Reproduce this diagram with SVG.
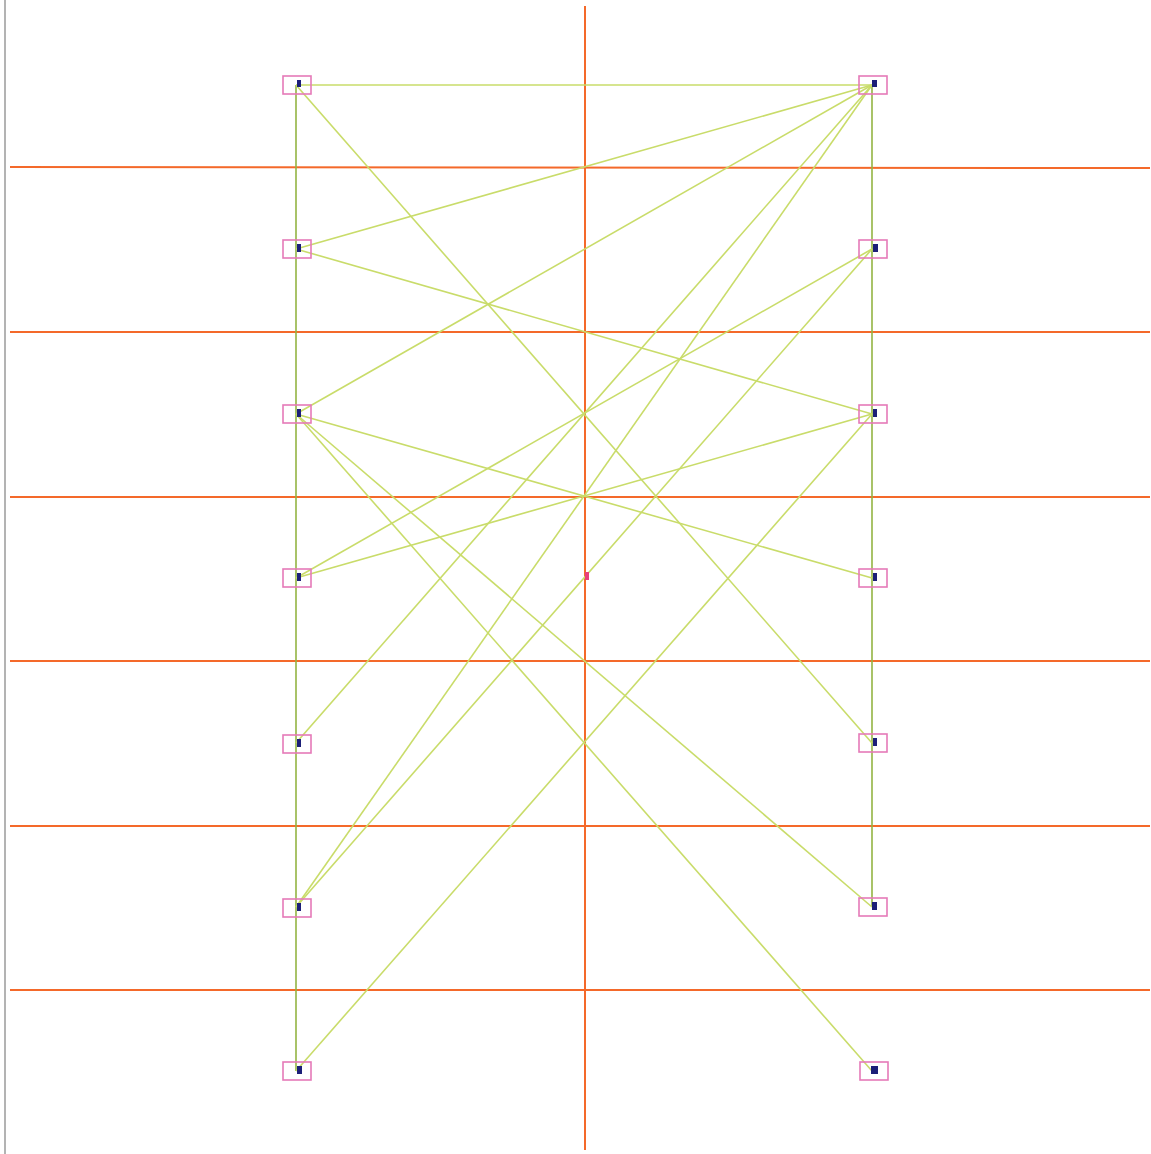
<svg xmlns="http://www.w3.org/2000/svg" width="1151" height="1154" viewBox="0 0 1151 1154">
<style>
.grid{stroke:#f4692a;stroke-width:2;fill:none}
.e{stroke:#c9dc6a;stroke-width:1.6;fill:none}
.v{stroke:#93b443;stroke-width:1.6;fill:none}
.box{fill:none;stroke:#e57ab8;stroke-width:1.6}
.dot{fill:#1c1f78}
</style>
<rect width="1151" height="1154" fill="#ffffff"/>
<line x1="5" y1="0" x2="5" y2="1154" stroke="#9a9a9a" stroke-width="1.5"/>
<g id="grid">
<line class="grid" x1="585" y1="6" x2="585" y2="1150"/>
<line class="grid" x1="10" y1="167" x2="1150" y2="168"/>
<line class="grid" x1="10" y1="332" x2="1150" y2="332"/>
<line class="grid" x1="10" y1="497" x2="1150" y2="497"/>
<line class="grid" x1="10" y1="661" x2="1150" y2="661"/>
<line class="grid" x1="10" y1="826" x2="1150" y2="826"/>
<line class="grid" x1="10" y1="990" x2="1150" y2="990"/>
</g>
<g id="connectors">
<line class="v" x1="296" y1="85" x2="296" y2="1071"/>
<line class="v" x1="872" y1="85" x2="872" y2="907"/>
<line class="e" x1="296" y1="85" x2="872" y2="85"/>
<line class="e" x1="296" y1="85" x2="872" y2="743"/>
<line class="e" x1="872" y1="85" x2="296" y2="249"/>
<line class="e" x1="872" y1="85" x2="296" y2="414"/>
<line class="e" x1="872" y1="85" x2="296" y2="743"/>
<line class="e" x1="872" y1="85" x2="296" y2="907"/>
<line class="e" x1="296" y1="249" x2="872" y2="414"/>
<line class="e" x1="296" y1="414" x2="872" y2="578"/>
<line class="e" x1="296" y1="414" x2="872" y2="907"/>
<line class="e" x1="296" y1="414" x2="872" y2="1071"/>
<line class="e" x1="296" y1="578" x2="872" y2="414"/>
<line class="e" x1="296" y1="578" x2="872" y2="249"/>
<line class="e" x1="296" y1="907" x2="872" y2="249"/>
<line class="e" x1="296" y1="1071" x2="872" y2="414"/>
</g>
<rect x="585" y="572" width="4" height="8" fill="#e8407a"/>
<g id="L1"><rect class="box" x="283" y="76" width="28" height="18"/><rect class="dot" x="297" y="80" width="4" height="7"/></g>
<g id="L2"><rect class="box" x="283" y="240" width="28" height="18"/><rect class="dot" x="297" y="244" width="4" height="8"/></g>
<g id="L3"><rect class="box" x="283" y="405" width="28" height="18"/><rect class="dot" x="297" y="409" width="4" height="8"/></g>
<g id="L4"><rect class="box" x="283" y="569" width="28" height="18"/><rect class="dot" x="297" y="573" width="4" height="8"/></g>
<g id="L5"><rect class="box" x="283" y="735" width="28" height="18"/><rect class="dot" x="297" y="739" width="4" height="8"/></g>
<g id="L6"><rect class="box" x="283" y="899" width="28" height="18"/><rect class="dot" x="297" y="903" width="4" height="8"/></g>
<g id="L7"><rect class="box" x="283" y="1062" width="28" height="18"/><rect class="dot" x="297" y="1066" width="5" height="8"/></g>
<g id="R1"><rect class="box" x="859" y="76" width="28" height="18"/><rect class="dot" x="872" y="80" width="5" height="7"/></g>
<g id="R2"><rect class="box" x="859" y="240" width="28" height="18"/><rect class="dot" x="873" y="244" width="5" height="8"/></g>
<g id="R3"><rect class="box" x="859" y="405" width="28" height="18"/><rect class="dot" x="873" y="409" width="4" height="8"/></g>
<g id="R4"><rect class="box" x="859" y="569" width="28" height="18"/><rect class="dot" x="873" y="573" width="4" height="8"/></g>
<g id="R5"><rect class="box" x="859" y="734" width="28" height="18"/><rect class="dot" x="873" y="738" width="4" height="8"/></g>
<g id="R6"><rect class="box" x="859" y="898" width="28" height="18"/><rect class="dot" x="872" y="902" width="5" height="8"/></g>
<g id="R7"><rect class="box" x="860" y="1062" width="28" height="18"/><rect class="dot" x="871" y="1066" width="7" height="8"/></g>
</svg>
